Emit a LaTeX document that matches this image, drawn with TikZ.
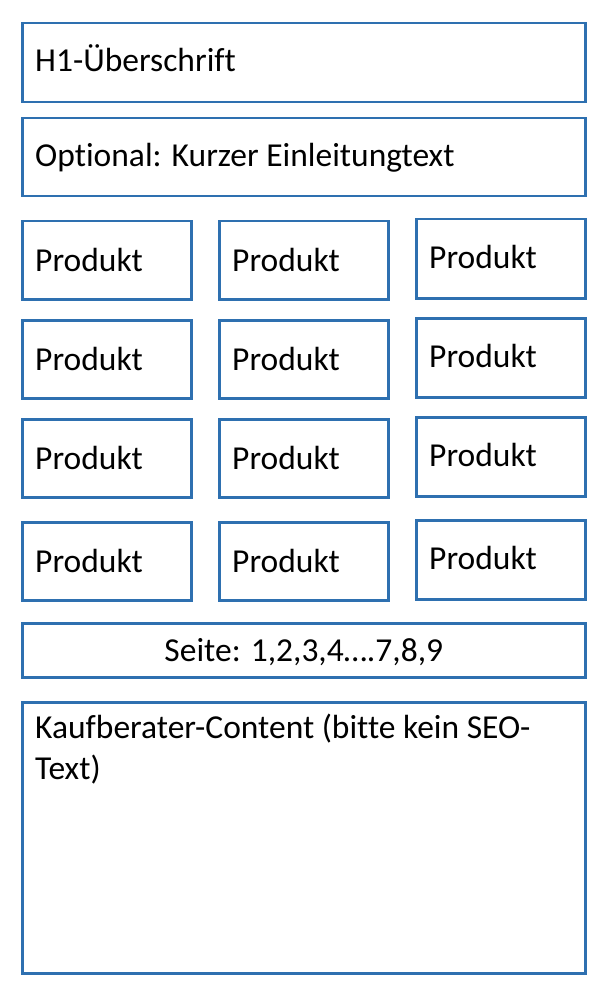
\documentclass[tikz,border=0pt]{standalone}
\usepackage{fontspec}
\setmainfont[Ligatures=NoCommon]{Carlito}
\definecolor{boxblue}{RGB}{46,112,176}
\begin{document}
\begin{tikzpicture}[x=1pt,y=-1pt,
  box/.style={draw=boxblue, line width=2.5pt, rectangle, inner sep=0pt, anchor=north west},
  txt/.style={anchor=base west, inner sep=0pt, font=\fontsize{33.5}{41.5}\selectfont, text=black}]
\useasboundingbox[fill=white] (0,0) rectangle (609,992);
% header boxes
\node[box, minimum width=563pt, minimum height=79pt] (h1) at (21,22) {};
\node[txt] (h1t) at ([shift={(14,50)}]h1.north west) {H1-Überschrift};
\node[box, minimum width=563pt, minimum height=78pt] (intro) at (21,117) {};
\node[txt] (introt) at ([shift={(14,50)}]intro.north west) {Optional: Kurzer Einleitungtext};
% product grid
\foreach \r/\ya/\yb in {1/220/218, 2/319/317, 3/418/416, 4/521/519}{
  \node[box, minimum width=169pt, minimum height=78pt] (p\r a) at (21,\ya) {};
  \node[txt] at ([shift={(14,51)}]p\r a.north west) {Produkt};
  \node[box, minimum width=169pt, minimum height=78pt] (p\r b) at (218,\ya) {};
  \node[txt] at ([shift={(14,51)}]p\r b.north west) {Produkt};
  \node[box, minimum width=169pt, minimum height=79pt] (p\r c) at (415,\yb) {};
  \node[txt] at ([shift={(14,50)}]p\r c.north west) {Produkt};
}
% pagination
\node[box, minimum width=563pt, minimum height=54pt] (pages) at (21,622) {};
\node[anchor=base, inner sep=0pt, font=\fontsize{33.5}{41.5}\selectfont] (pagest) at ([yshift=-39pt]pages.north) {Seite: 1,2,3,4….7,8,9};
% content
\node[box, minimum width=563pt, minimum height=271pt] (content) at (21,701) {};
\node[txt] (contentt) at ([shift={(14,37)}]content.north west) {Kaufberater-Content (bitte kein SEO-};
\node[txt] (contentt2) at ([shift={(14,78.5)}]content.north west) {Text)};
\end{tikzpicture}
\end{document}
